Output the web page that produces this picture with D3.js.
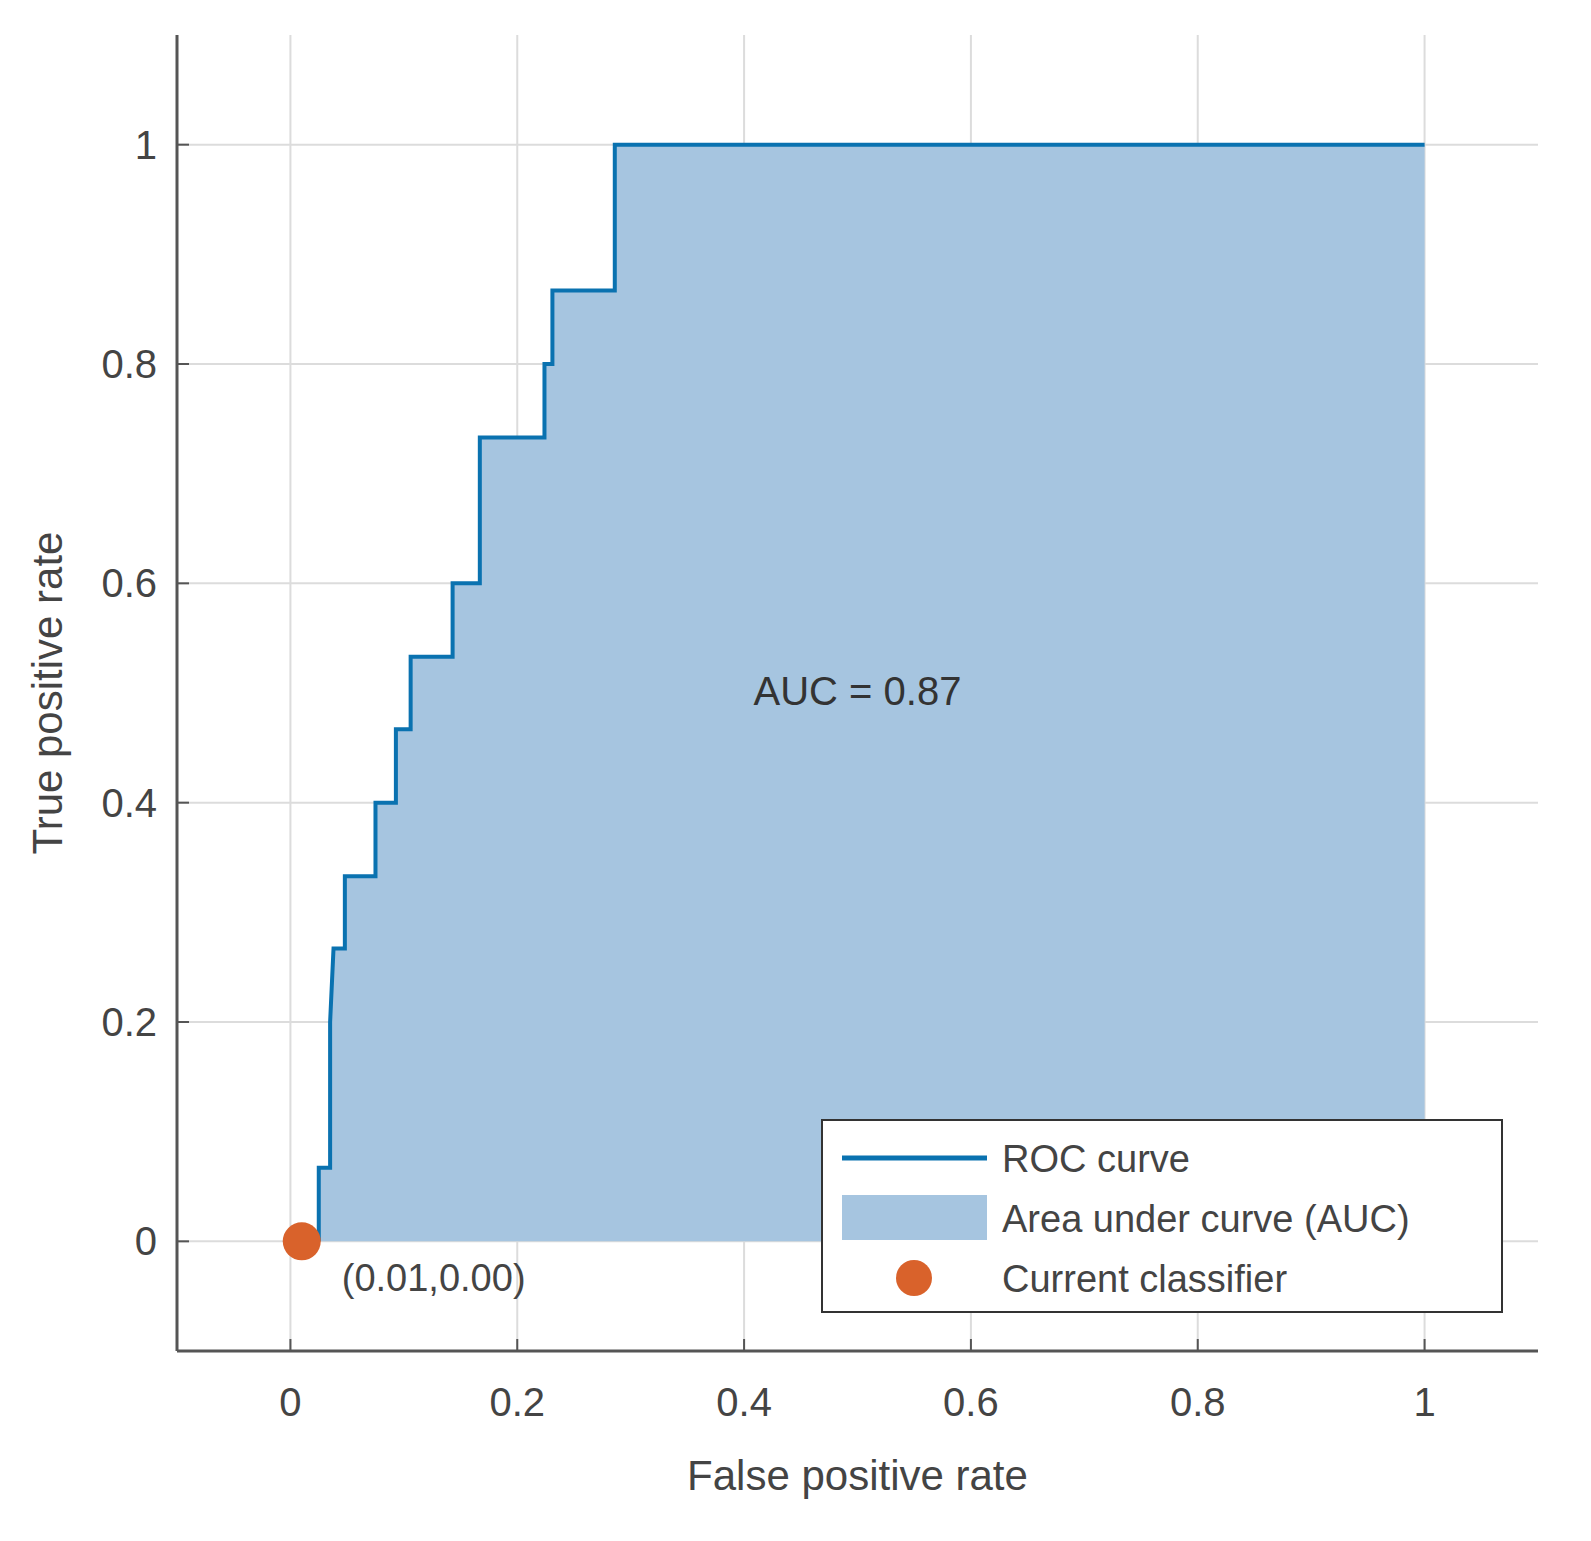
<!DOCTYPE html>
<html><head><meta charset="utf-8">
<script src="https://cdn.jsdelivr.net/npm/d3@7"></script>
<style>body{margin:0;background:#fff}text{font-family:"Liberation Sans",Arial,sans-serif}</style>
</head><body><svg id="c" width="1591" height="1541"></svg>
<script>
const rocX=[0.025,0.025,0.035,0.035,0.038,0.048,0.048,0.075,0.075,0.093,0.093,0.106,0.106,0.143,0.143,0.167,0.167,0.224,0.224,0.231,0.231,0.286,0.286,1];
const rocY=[0,0.067,0.067,0.2,0.267,0.267,0.333,0.333,0.4,0.4,0.467,0.467,0.533,0.533,0.6,0.6,0.733,0.733,0.8,0.8,0.867,0.867,1,1];
const ticks=[0,0.2,0.4,0.6,0.8,1];
const tickLabels=["0","0.2","0.4","0.6","0.8","1"];
const classifier=[0.01,0.00];
const aucText="AUC = 0.87";
const legendItems=["ROC curve","Area under curve (AUC)","Current classifier"];

const svg=d3.select("#c");
const L=177,R=1538,T=35,B=1351;
const x=d3.scaleLinear().domain([-0.1,1.1]).range([L,R]);
const y=d3.scaleLinear().domain([-0.1,1.1]).range([B,T]);
const grid="#dcdcdc",txt="#444";
ticks.forEach(t=>{
  svg.append("line").attr("x1",x(t)).attr("x2",x(t)).attr("y1",T).attr("y2",B).attr("stroke",grid).attr("stroke-width",2);
  svg.append("line").attr("y1",y(t)).attr("y2",y(t)).attr("x1",L).attr("x2",R).attr("stroke",grid).attr("stroke-width",2);
});
const pts=rocX.map((v,i)=>[v,rocY[i]]);
svg.append("path").datum(pts).attr("d",d3.area().x(d=>x(d[0])).y0(y(0)).y1(d=>y(d[1]))).attr("fill","#a6c5e0");
svg.append("path").datum(pts).attr("d",d3.line().x(d=>x(d[0])).y(d=>y(d[1]))).attr("fill","none").attr("stroke","#0a72b0").attr("stroke-width",4);
svg.append("circle").attr("cx",x(classifier[0])).attr("cy",y(classifier[1])).attr("r",19).attr("fill","#d9622b");
svg.append("text").attr("x",x(classifier[0])+40).attr("y",y(classifier[1])+50).attr("font-size",38).attr("fill",txt).text(`(${classifier[0].toFixed(2)},${classifier[1].toFixed(2)})`);
svg.append("text").attr("x",x(0.5)).attr("y",y(0.5)+12).attr("text-anchor","middle").attr("font-size",40).attr("fill","#333").text(aucText);
// axes
svg.append("line").attr("x1",L).attr("x2",L).attr("y1",T).attr("y2",B).attr("stroke","#555").attr("stroke-width",3);
svg.append("line").attr("x1",L).attr("x2",R).attr("y1",B).attr("y2",B).attr("stroke","#555").attr("stroke-width",3);
ticks.forEach((t,i)=>{
  svg.append("line").attr("x1",x(t)).attr("x2",x(t)).attr("y1",B).attr("y2",B-12).attr("stroke","#555").attr("stroke-width",2);
  svg.append("line").attr("x1",L).attr("x2",L+12).attr("y1",y(t)).attr("y2",y(t)).attr("stroke","#555").attr("stroke-width",2);
  svg.append("text").attr("x",x(t)).attr("y",B+65).attr("text-anchor","middle").attr("font-size",40).attr("fill",txt).text(tickLabels[i]);
  svg.append("text").attr("x",L-20).attr("y",y(t)+14).attr("text-anchor","end").attr("font-size",40).attr("fill",txt).text(tickLabels[i]);
});
svg.append("text").attr("x",x(0.5)).attr("y",1490).attr("text-anchor","middle").attr("font-size",42).attr("fill",txt).text("False positive rate");
svg.append("text").attr("transform",`translate(62,${y(0.5)}) rotate(-90)`).attr("text-anchor","middle").attr("font-size",42).attr("fill",txt).text("True positive rate");
// legend
const lg=svg.append("g").attr("transform","translate(822,1120)");
lg.append("rect").attr("width",680).attr("height",192).attr("fill","#fff").attr("stroke","#333").attr("stroke-width",2);
lg.append("line").attr("x1",20).attr("x2",165).attr("y1",38).attr("y2",38).attr("stroke","#0a72b0").attr("stroke-width",5);
lg.append("rect").attr("x",20).attr("y",75).attr("width",145).attr("height",45).attr("fill","#a6c5e0");
lg.append("circle").attr("cx",92).attr("cy",158).attr("r",18).attr("fill","#d9622b");
legendItems.forEach((s,i)=>lg.append("text").attr("x",180).attr("y",52+i*60).attr("font-size",38).attr("fill",txt).text(s));
</script></body></html>
